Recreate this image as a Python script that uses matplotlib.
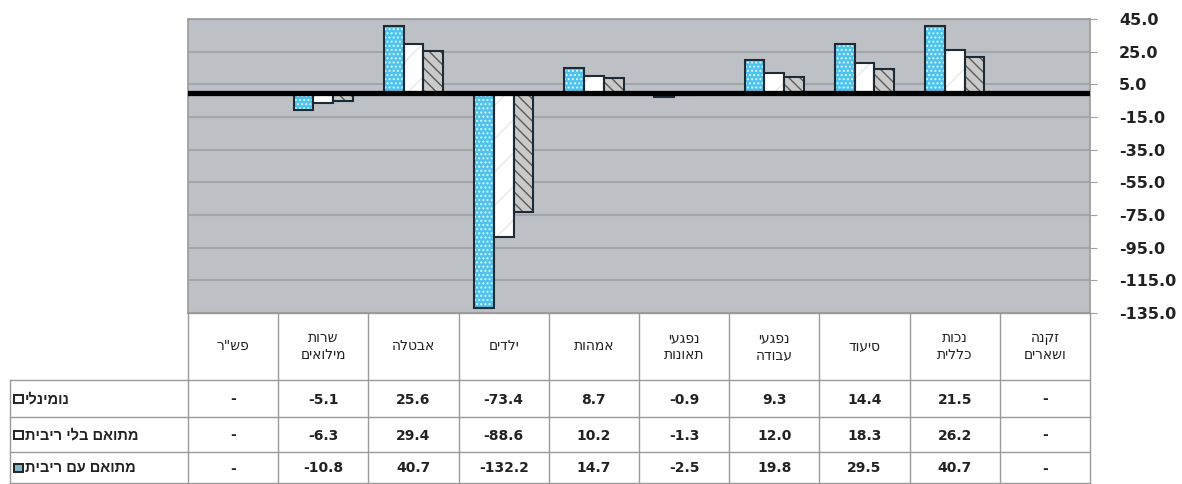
import numpy as np
import matplotlib
matplotlib.use("Agg")
import matplotlib.pyplot as plt
from matplotlib.patches import Rectangle

plt.rcParams['font.family'] = ['Liberation Sans', 'DejaVu Sans']

# data, left to right as in the chart
categories = ['פש"ר', 'שרות\nמילואים', 'אבטלה', 'ילדים', 'אמהות',
              'נפגעי\nתאונות', 'נפגעי\nעבודה', 'סיעוד', 'נכות\nכללית', 'זקנה\nושארים']
nominal = [np.nan, -5.1, 25.6, -73.4, 8.7, -0.9, 9.3, 14.4, 21.5, np.nan]
adj_no_interest = [np.nan, -6.3, 29.4, -88.6, 10.2, -1.3, 12.0, 18.3, 26.2, np.nan]
adj_interest = [np.nan, -10.8, 40.7, -132.2, 14.7, -2.5, 19.8, 29.5, 40.7, np.nan]
series_names = ['נומינלי', 'מתואם בלי ריבית', 'מתואם עם ריבית']
y_ticks = [45, 25, 5, -15, -35, -55, -75, -95, -115, -135]


def rtl(s):
    # matplotlib has no bidi: reverse each line for visual order
    return '\n'.join(line[::-1] for line in s.split('\n'))


W, H = 1182, 484
fig = plt.figure(figsize=(W / 100, H / 100), dpi=100)

BG = '#bdc1c6'
BLUE = '#4cc2ee'
EDGE = '#1c2b36'
TXT = '#222222'
WIDE = ['DejaVu Sans']

# styles per series: (face, hatch, hatch colour)
styles = {
    'nominal': ('#cacaca', '\\\\\\', '#5a5a5a'),
    'no_int': ('#ffffff', '/', '#e3e8ea'),
    'int': (BLUE, '....', '#d8f3fc'),
}

# ---- table drawn in pixel coordinates on a full figure axes ----
tab = fig.add_axes([0, 0, 1, 1])
tab.set_xlim(0, W)
tab.set_ylim(H, 0)
tab.axis('off')

x0, x1 = 188, 1090
colw = (x1 - x0) / len(categories)
lab_x0 = 10
row_edges = [313, 380, 417, 452, 483]
line_c = '#9a9a9a'

tab.plot([x0, x1], [row_edges[0]] * 2, color=line_c, lw=1)
for y in row_edges[1:]:
    tab.plot([lab_x0, x1], [y, y], color=line_c, lw=1)
for i in range(len(categories) + 1):
    tab.plot([x0 + i * colw] * 2, [row_edges[0], row_edges[-1]], color=line_c, lw=1)
tab.plot([lab_x0] * 2, [row_edges[1], row_edges[-1]], color=line_c, lw=1)

for i, cat in enumerate(categories):
    cx = x0 + (i + 0.5) * colw
    tab.text(cx, (row_edges[0] + row_edges[1]) / 2, rtl(cat), ha='center', va='center',
             fontsize=10, color=TXT, linespacing=1.3, family=WIDE)

rows = [nominal, adj_no_interest, adj_interest]
key_face = ['#ffffff', '#ffffff', '#7fb9c9']
for r, (vals, name) in enumerate(zip(rows, series_names)):
    cy = (row_edges[r + 1] + row_edges[r + 2]) / 2
    for i, v in enumerate(vals):
        cx = x0 + (i + 0.5) * colw
        txt = '-' if np.isnan(v) else f'{v:.1f}'
        tab.text(cx, cy + 1, txt, ha='center', va='center', fontsize=10,
                 fontweight='bold', color=TXT, family=WIDE)
    # legend key
    tab.add_patch(Rectangle((14, cy - 4), 9, 8, facecolor=key_face[r],
                            edgecolor=TXT, lw=1.4))
    tab.text(25, cy + 1, rtl(name), ha='left', va='center', fontsize=10.5,
             fontweight='bold', color=TXT)

# ---- bar chart ----
ax = fig.add_axes([x0 / W, 1 - 313 / H, (x1 - x0) / W, (313 - 19) / H])
ax.set_facecolor(BG)
x = np.arange(len(categories))
w = 0.22
for vals, off, st in [(adj_interest, -w, styles['int']),
                      (adj_no_interest, 0, styles['no_int']),
                      (nominal, w, styles['nominal'])]:
    v = np.nan_to_num(np.array(vals, dtype=float))
    ax.bar(x + off, v, width=w, color=st[0], hatch=st[1], edgecolor=st[2],
           linewidth=0, zorder=2)
    ax.bar(x + off, v, width=w, color='none', edgecolor=EDGE, linewidth=1.5, zorder=2.5)

ax.axhline(0, color='black', lw=3.8, zorder=3)
ax.set_xlim(-0.5, len(categories) - 0.5)
ax.set_ylim(-135, 45)
ax.set_yticks(y_ticks)
ax.set_yticklabels([f'{t:.1f}' for t in y_ticks], fontweight='bold', fontsize=11.5,
                   color=TXT, family=WIDE)
ax.yaxis.tick_right()
ax.tick_params(axis='y', length=5, color='#a0a0a0', pad=16)
ax.set_xticks([])
ax.grid(axis='y', color='#a3a7ac', lw=1.5, zorder=1)
for s in ax.spines.values():
    s.set_color('#9a9a9a')
    s.set_linewidth(1.2)

fig.savefig('out.png', dpi=100)
